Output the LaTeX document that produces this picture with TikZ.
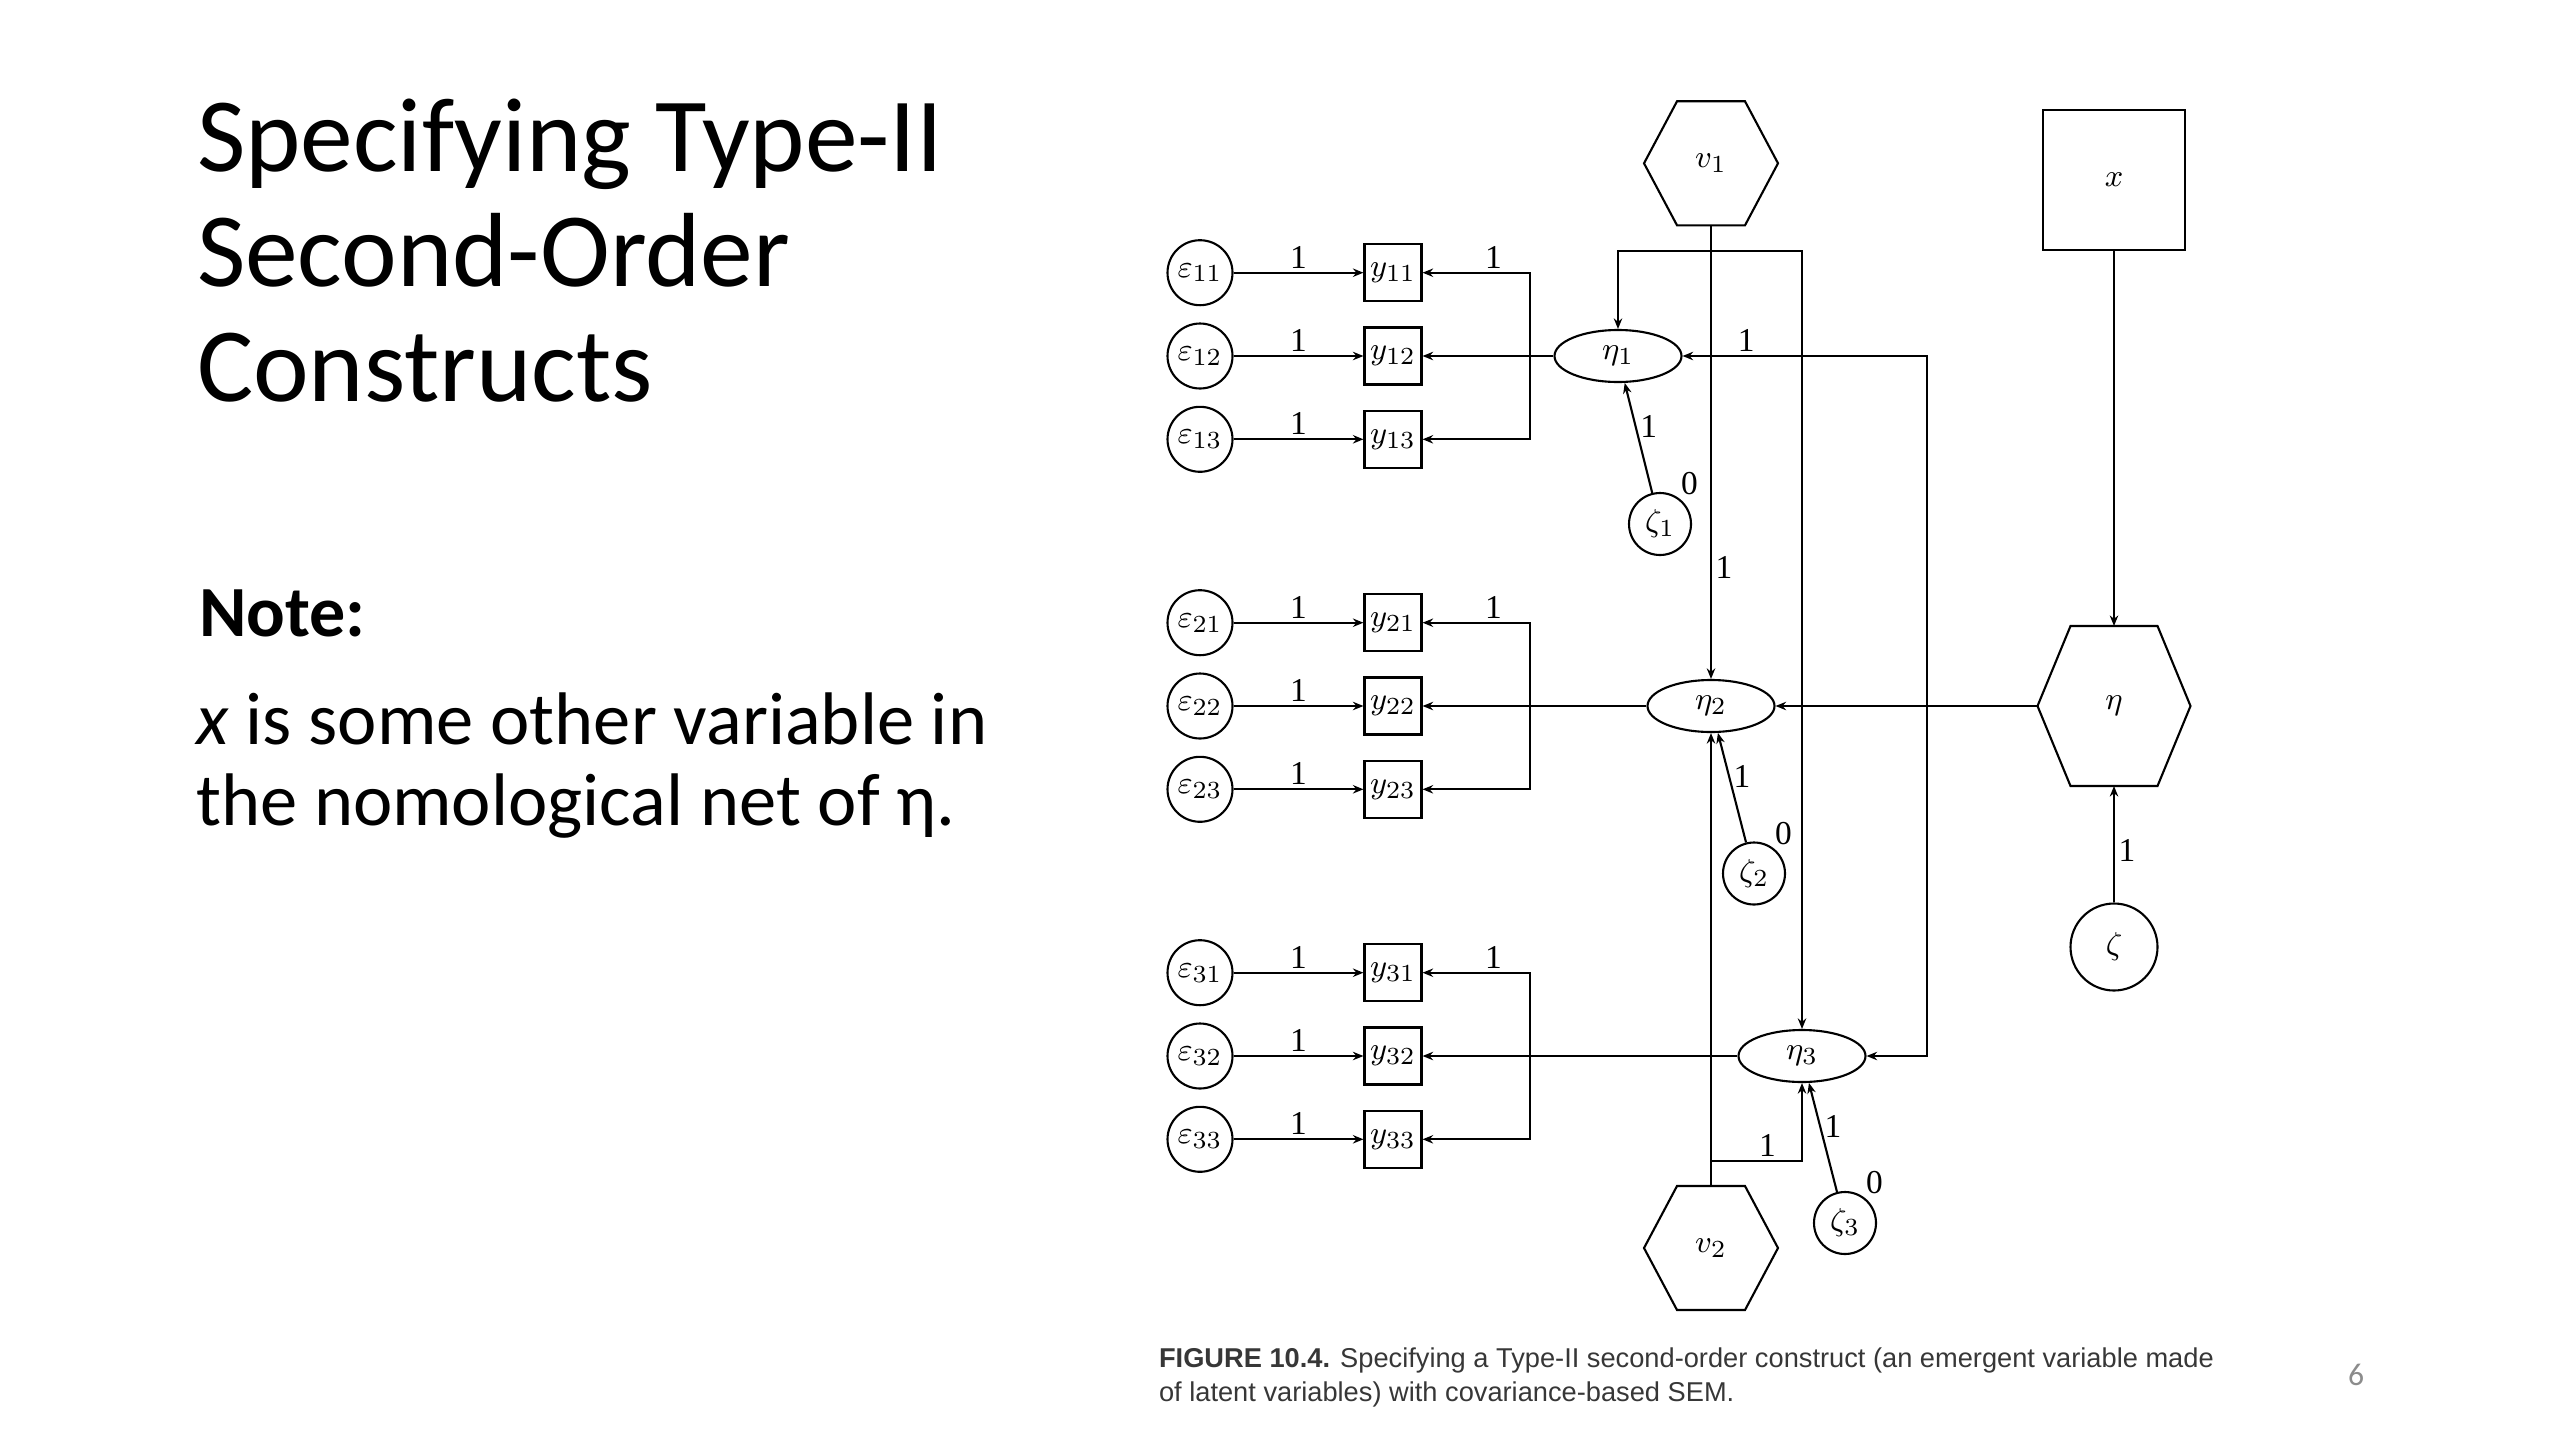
\documentclass[tikz,border=0pt]{standalone}
\usepackage{fontspec}
\setmainfont{Liberation Serif}
\newfontfamily\slidefont{Carlito}
\newfontfamily\capfont{Liberation Sans}
\usepackage{tikz}
\usetikzlibrary{arrows.meta, positioning, shapes.geometric, calc}
\definecolor{capgray}{RGB}{55,55,55}
\definecolor{pagegray}{RGB}{140,140,140}

% hexagon outline round a (plain rectangle) node
\newcommand{\hexdraw}[2]{%
  \draw ([xshift=#2]#1.north west) -- ([xshift=-#2]#1.north east) -- (#1.east)
    -- ([xshift=-#2]#1.south east) -- ([xshift=#2]#1.south west) -- (#1.west) -- cycle;}

\begin{document}
\begin{tikzpicture}[
  font=\fontsize{9.5}{11}\selectfont, >={Stealth[length=3pt,width=2.4pt]},
  line width=0.6pt,
  err/.style={circle, draw, minimum size=0.65cm, inner sep=0pt},
  obs/.style={rectangle, draw, minimum size=0.57cm, inner sep=0pt},
  lat/.style={ellipse, draw, minimum width=1.27cm, minimum height=0.52cm, inner sep=0pt},
  dist/.style={circle, draw, minimum size=0.62cm, inner sep=0pt,
               label={[inner sep=0.5pt]55:0}},
  hexv/.style={rectangle, minimum width=1.34cm, minimum height=1.24cm,
               inner sep=0pt, outer sep=0pt},
  hexeta/.style={rectangle, minimum width=1.53cm, minimum height=1.60cm,
                 inner sep=0pt, outer sep=0pt},
  lbl/.style={inner sep=1pt},
]
\useasboundingbox (0,0) rectangle (25.6,-14.4);

% slide text
\node[anchor=north west, align=left, inner sep=0pt,
      font=\slidefont\fontsize{30}{32.7}\selectfont] (title) at (1.96,-0.98)
      {Specifying Type-II\\Second-Order\\Constructs};
\node[anchor=base west, inner sep=0pt,
      font=\slidefont\bfseries\fontsize{20.5}{22.8}\selectfont] (notehead) at (1.98,-6.36) {Note:};
\node[anchor=north west, align=left, inner sep=0pt,
      font=\slidefont\fontsize{21.2}{23}\selectfont] (notebody) at (1.95,-6.92)
      {\textit{x} is some other variable in\\the nomological net of η.};

% measurement part
\foreach \g/\yy in {1/-3.56, 2/-7.06, 3/-10.56} {
  \foreach \r/\dy in {1/0.833, 2/0, 3/-0.833} {
    \node[err] (e\g\r) at (12.00,{\yy+\dy}) {$\varepsilon_{\g\r}$};
    \node[obs] (y\g\r) at (13.93,{\yy+\dy}) {$y_{\g\r}$};
    \draw[->] (e\g\r) -- node[above, lbl] {1} (y\g\r);
  }
  \coordinate (s\g) at (15.30,\yy);
}

% first-order latents and disturbances
\node[lat]  (eta1)  at (16.18,-3.56)  {$\eta_1$};
\node[lat]  (eta2)  at (17.11,-7.06)  {$\eta_2$};
\node[lat]  (eta3)  at (18.02,-10.56) {$\eta_3$};
\node[dist] (zeta1) at (16.60,-5.24)  {$\zeta_1$};
\node[dist] (zeta2) at (17.54,-8.735) {$\zeta_2$};
\node[dist] (zeta3) at (18.45,-12.23) {$\zeta_3$};

\foreach \g in {1,2,3} {
  \draw[->] (eta\g) -- (y\g2);
  \draw[->] (s\g) |- node[pos=0.67, above, lbl] {1} (y\g1);
  \draw[->] (s\g) |- (y\g3);
  \draw[->] (zeta\g) -- node[pos=0.6, right, lbl] {1} (eta\g);
}

% emergent variable, its indicators and x
\node[hexv]   (v1)   at (17.11,-1.633) {$v_1$};
\node[hexv]   (v2)   at (17.11,-12.48) {$v_2$};
\node[hexeta] (eta)  at (21.14,-7.06)  {$\eta$};
\node[rectangle, draw, minimum width=1.42cm, minimum height=1.40cm] (xvar) at (21.14,-1.80) {$x$};
\node[circle, draw, minimum size=0.87cm, inner sep=0pt] (zeta) at (21.14,-9.47) {$\zeta$};
\hexdraw{v1}{0.33cm}
\hexdraw{v2}{0.33cm}
\hexdraw{eta}{0.33cm}

\coordinate (v1split)  at (17.11,-2.51);
\coordinate (v2split)  at (17.11,-11.61);
\coordinate (etasplit) at (19.27,-7.06);

\draw[->] (v1) -- node[pos=0.755, right, lbl] {1} (eta2);
\draw[->] (v1split) -| (eta1);
\draw[->] (v1split) -| (eta3);
\draw[->] (v2) -- (eta2);
\draw[->] (v2split) -| node[pos=0.31, above, lbl] {1} (eta3);
\draw[->] (xvar) -- (eta);
\draw[->] (zeta) -- node[pos=0.45, right, lbl] {1} (eta);
\draw[->] (eta) -- (eta2);
\draw[->] (etasplit) |- node[pos=0.87, above, lbl] {1} (eta1);
\draw[->] (etasplit) |- (eta3);

% caption and page number
\node[anchor=north west, align=left, inner sep=0pt, text=capgray,
      font=\capfont\fontsize{7.75}{9.7}\selectfont] (caption) at (11.58,-13.47)
      {\textbf{FIGURE 10.4.} Specifying a Type-II second-order construct (an emergent variable made\\of latent variables) with covariance-based SEM.};
\node[text=pagegray, font=\slidefont\fontsize{9}{10}\selectfont] (page) at (23.56,-13.75) {6};
\end{tikzpicture}
\end{document}
